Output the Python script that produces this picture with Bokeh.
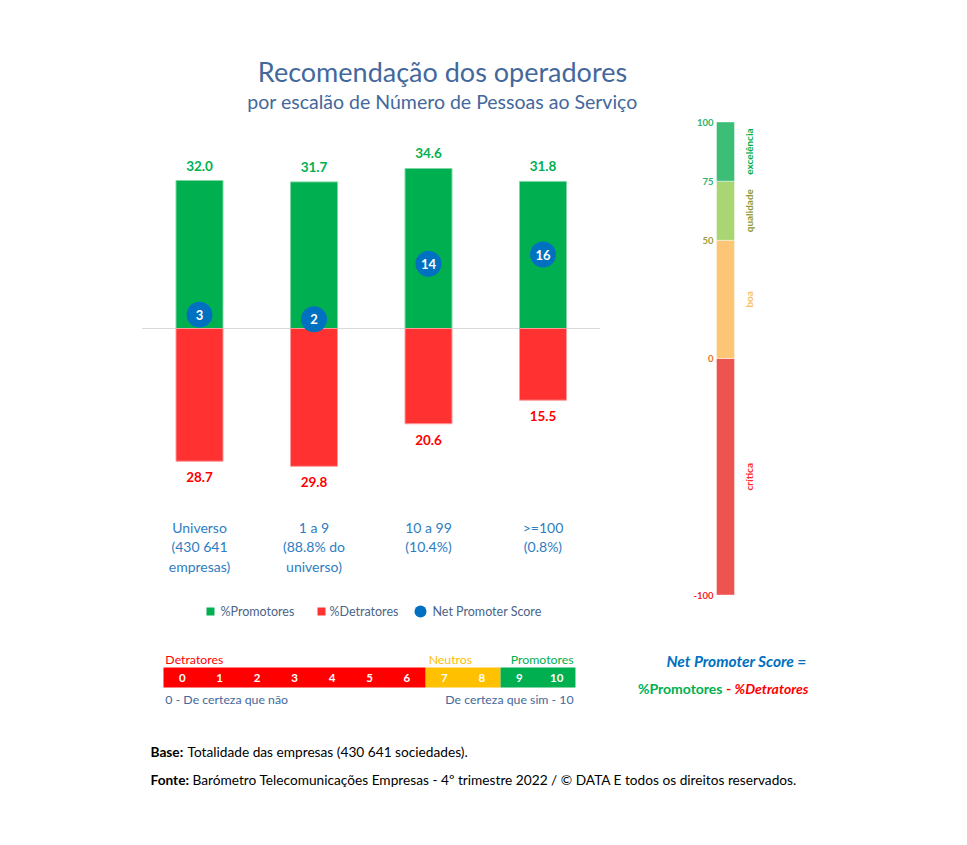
import math
from bokeh.plotting import figure
from bokeh.models import Range1d
from bokeh.embed import file_html
from bokeh.resources import INLINE
from bokeh.core.properties import value

# ---------------- data ----------------
categories = ["Universo\n(430 641\nempresas)", "1 a 9\n(88.8% do\nuniverso)",
              "10 a 99\n(10.4%)", ">=100\n(0.8%)"]
promotores = [32.0, 31.7, 34.6, 31.8]
detratores = [28.7, 29.8, 20.6, 15.5]
nps = [3, 2, 14, 16]

scale_scores = [0, 1, 2, 3, 4, 5, 6, 7, 8, 9, 10]
scale_groups = ["Detratores", "Detratores", "Detratores", "Detratores", "Detratores",
                "Detratores", "Detratores", "Neutros", "Neutros", "Promotores", "Promotores"]
group_names = ["Detratores", "Neutros", "Promotores"]

zone_names = ["crítica", "boa", "qualidade", "excelência"]
zone_low = [-100, 0, 50, 75]
zone_high = [0, 50, 75, 100]
zone_ticks = [100, 75, 50, 0, -100]

# ---------------- style / layout ----------------
W, H = 967, 845
FONT = "Lato"
GREEN = "#00B050"
RED = "#FF3131"
RED_TXT = "#FF0000"
BLUE = "#0070C0"
TITLE_C = "#44689B"
group_colors = {"Detratores": "#FF0000", "Neutros": "#FFC000", "Promotores": "#00B050"}
group_text = {"Detratores": "#FF0000", "Neutros": "#FFC000", "Promotores": "#00B050"}
zone_colors = ["#EF5350", "#FDC676", "#A9D672", "#3DBE77"]
zone_text = ["#FF2A2A", "#F8C06A", "#8E9A36", "#00B050"]
tick_text = ["#2DB36A", "#2DB36A", "#A09C3A", "#E8701A", "#F0262B"]

BAR_X0, BAR_STEP = 199.0, 114.5      # pixel centre of first bar, spacing
ZERO_PX, PX_PER_PCT = 328.0, 4.625   # zero line (from top), px per %
NPS_ZERO_PX, NPS_PX = 358.0, 2.365   # NPS scale
SC_X0, SC_CELL = 163.0, 37.45        # 0-10 scale


def Y(px):
    return H - px


p = figure(width=W, height=H, x_range=Range1d(0, W), y_range=Range1d(0, H),
           min_border=0, toolbar_location=None, output_backend="svg",
           x_axis_type=None, y_axis_type=None)
p.grid.visible = False
p.outline_line_color = None
p.background_fill_color = "white"

p.extra_x_ranges = {
    "bx": Range1d(-BAR_X0 / BAR_STEP, (W - BAR_X0) / BAR_STEP),
    "sx": Range1d(-SC_X0 / SC_CELL, (W - SC_X0) / SC_CELL),
}
p.extra_y_ranges = {
    "by": Range1d(-(H - ZERO_PX) / PX_PER_PCT, ZERO_PX / PX_PER_PCT),
    "ny": Range1d(-(H - NPS_ZERO_PX) / NPS_PX, NPS_ZERO_PX / NPS_PX),
}


def txt(x, y, s, size, color, bold=False, italic=False, align="left",
        baseline="middle", angle=0.0, xr="default", yr="default", line_height=1.2,
        x_off=0, y_off=0):
    style = "normal"
    if bold and italic:
        style = "bold italic"
    elif bold:
        style = "bold"
    elif italic:
        style = "italic"
    xs = x if isinstance(x, list) else [x]
    ys = y if isinstance(y, list) else [y]
    ss = s if isinstance(s, list) else [s]
    cs = color if isinstance(color, list) else [color] * len(ss)
    p.text(x=xs, y=ys, text=ss, text_color=cs, text_font=value(FONT),
           text_font_size=f"{size}px", text_font_style=style, text_align=align,
           text_baseline=baseline, angle=angle, x_range_name=xr, y_range_name=yr,
           text_line_height=line_height, x_offset=x_off, y_offset=y_off)


# ---------------- titles ----------------
txt(442, Y(71), "Recomendação dos operadores", 27, TITLE_C, align="center")
txt(442, Y(101), "por escalão de Número de Pessoas ao Serviço", 19.5, TITLE_C, align="center")

# ---------------- bars ----------------
n = len(categories)
idx = list(range(n))
neg = [-d for d in detratores]
BW = 47 / BAR_STEP
p.segment(x0=[-0.5], x1=[n - 0.5], y0=[0], y1=[0], line_color="#D9D9D9", line_width=1,
          x_range_name="bx", y_range_name="by")
p.vbar(x=idx, top=promotores, bottom=0, width=BW, fill_color=GREEN,
       line_color="#7FD7A7", line_width=1, x_range_name="bx", y_range_name="by")
p.vbar(x=idx, top=0, bottom=neg, width=BW, fill_color=RED,
       line_color="#FF9A9A", line_width=1, x_range_name="bx", y_range_name="by")

txt(idx, promotores, [f"{v:.1f}" for v in promotores], 13.5, GREEN, bold=True,
    align="center", xr="bx", yr="by", y_off=-15)
txt(idx, neg, [f"{v:.1f}" for v in detratores], 13.5, RED_TXT, bold=True,
    align="center", xr="bx", yr="by", y_off=16)

p.scatter(x=idx, y=nps, size=26, marker="circle", fill_color=BLUE, line_color=None,
          x_range_name="bx", y_range_name="by")
txt(idx, nps, [str(v) for v in nps], 13, "white", bold=True, align="center",
    xr="bx", yr="by")

# category labels
txt(idx, [Y(518)] * n, categories, 14, "#2E7DC2", align="center", baseline="top",
    xr="bx", line_height=1.15)

# ---------------- legend ----------------
LY = Y(611)
p.scatter(x=[210], y=[LY], size=8, marker="square", fill_color=GREEN, line_color=None)
txt(220, LY, "%Promotores", 12.5, "#4A6487")
p.scatter(x=[321], y=[LY], size=8, marker="square", fill_color=RED, line_color=None)
txt(329, LY, "%Detratores", 12.5, "#4A6487")
p.scatter(x=[420], y=[LY], size=12, marker="circle", fill_color=BLUE, line_color=None)
txt(432, LY, "Net Promoter Score", 12.5, "#4A6487")

# ---------------- 0-10 scale ----------------
first_of = {g: scale_groups.index(g) for g in group_names}
last_of = {g: len(scale_groups) - 1 - scale_groups[::-1].index(g) for g in group_names}
p.quad(left=[scale_scores[first_of[g]] for g in group_names],
       right=[scale_scores[last_of[g]] + 1 for g in group_names],
       top=Y(667), bottom=Y(687),
       fill_color=[group_colors[g] for g in group_names], line_color=None,
       x_range_name="sx")
txt([s + 0.5 for s in scale_scores], [Y(677)] * len(scale_scores),
    [str(s) for s in scale_scores], 11.5, "white", bold=True, align="center", xr="sx")
# group headers
txt(first_of["Detratores"] + 0.05, Y(659), "Detratores", 12.3, group_text["Detratores"], xr="sx")
txt(first_of["Neutros"] + 0.08, Y(659), "Neutros", 12.3, group_text["Neutros"], xr="sx")
txt(last_of["Promotores"] + 0.95, Y(659), "Promotores", 12.3, group_text["Promotores"],
    align="right", xr="sx")
txt(scale_scores[0] + 0.05, Y(699), "0 - De certeza que não", 12.3, TITLE_C, xr="sx")
txt(scale_scores[-1] + 0.95, Y(699), "De certeza que sim - 10", 12.3, TITLE_C,
    align="right", xr="sx")

# ---------------- NPS formula ----------------
txt(736, Y(660), "Net Promoter Score =", 15.5, BLUE, bold=True, italic=True, align="center")
txt(722, Y(688), "%Promotores", 14, GREEN, bold=True, align="right")
txt(728, Y(688), "-", 14, RED_TXT, bold=True, align="center")
txt(734, Y(688), "%Detratores", 14, RED_TXT, bold=True, italic=True)

# ---------------- NPS quality scale ----------------
p.quad(left=716, right=734, bottom=zone_low, top=zone_high, fill_color=zone_colors,
       line_color="#FFFFFF", line_alpha=0.4, line_width=1, y_range_name="ny")
txt([713] * len(zone_ticks), zone_ticks, [str(t) for t in zone_ticks], 9.5, tick_text,
    bold=True, align="right", yr="ny")
zone_mid = [(a + b) / 2 for a, b in zip(zone_low, zone_high)]
txt([748] * len(zone_names), zone_mid, zone_names, 10, zone_text, bold=True,
    align="center", angle=math.pi / 2, yr="ny")

# ---------------- footer ----------------
txt(150, Y(751), "Base:", 13.7, "black", bold=True)
txt(187, Y(751), "Totalidade das empresas (430 641 sociedades).", 13.7, "black")
txt(150, Y(779), "Fonte:", 13.7, "black", bold=True)
txt(192, Y(779), "Barómetro Telecomunicações Empresas - 4º trimestre 2022 / © DATA E todos os direitos reservados.",
    13.7, "black")

open("out.html", "w").write(file_html(p, INLINE))
